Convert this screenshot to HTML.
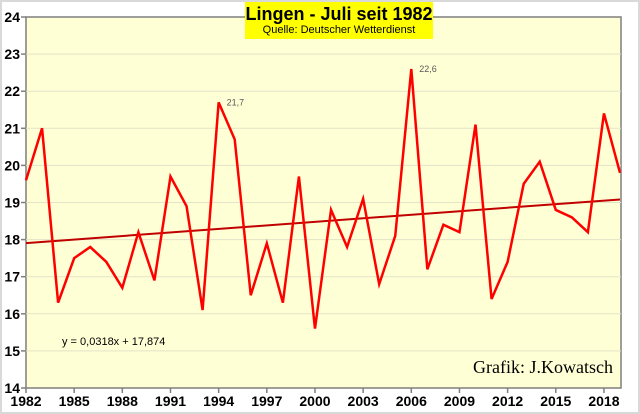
<!DOCTYPE html>
<html><head><meta charset="utf-8"><style>
body{margin:0;background:#fff}
#c{position:relative;width:640px;height:414px;box-sizing:border-box;border:2px solid #d9d9d9;background:#fff;font-family:"Liberation Sans",sans-serif;overflow:hidden}
#title{position:absolute;left:243px;top:0;width:188px;height:37px;background:#ffff00;text-align:center;white-space:nowrap}
</style></head><body>
<div id="c">
<svg id="s" width="640" height="414" style="position:absolute;left:-2px;top:-2px"></svg>
<div id="title">
<div style="font-weight:bold;font-size:18px;line-height:20px;margin-top:2px">Lingen - Juli seit 1982</div>
<div style="font-size:11px;line-height:13px">Quelle: Deutscher Wetterdienst</div>
</div>
</div>
<script>
const years=[1982,1983,1984,1985,1986,1987,1988,1989,1990,1991,1992,1993,1994,1995,1996,1997,1998,1999,2000,2001,2002,2003,2004,2005,2006,2007,2008,2009,2010,2011,2012,2013,2014,2015,2016,2017,2018,2019];
const temps=[19.6,21.0,16.3,17.5,17.8,17.4,16.7,18.2,16.9,19.7,18.9,16.1,21.7,20.7,16.5,17.9,16.3,19.7,15.6,18.8,17.8,19.1,16.8,18.1,22.6,17.2,18.4,18.2,21.1,16.4,17.4,19.5,20.1,18.8,18.6,18.2,21.4,19.8];
const yTicks=[14,15,16,17,18,19,20,21,22,23,24];
const xTickYears=[1982,1985,1988,1991,1994,1997,2000,2003,2006,2009,2012,2015,2018];
const trendSlope=0.0318, trendIntercept=17.874;
const labelled=[1994,2006];
const NS='http://www.w3.org/2000/svg';
const svg=document.getElementById('s');
const L=26,R=621,T=17,B=388;
const x=yr=>L+(yr-1982)*(R-1-L)/(2019-1982);
const y=v=>B-(v-14)*(B-T)/10;
function mk(t,a){const e=document.createElementNS(NS,t);for(const k in a)e.setAttribute(k,a[k]);svg.appendChild(e);return e;}
let e=mk('rect',{x:L,y:T,width:R-L,height:B-T,fill:'#ffffd6',stroke:'#7f7f7f','stroke-width':1.5});


yTicks.forEach(v=>{
 if(v>14&&v<24){e=mk('line',{x1:L,x2:R,y1:y(v),y2:y(v),stroke:'#e3e3c8','stroke-width':1});
 
 }
 mk('line',{x1:L-5,x2:L,y1:y(v),y2:y(v),stroke:'#7f7f7f','stroke-width':1.5});
 e=mk('text',{x:L-6,y:y(v)+5,'text-anchor':'end','font-size':14,'font-weight':'bold',fill:'#000'});
 e.textContent=v;
 
 
});
xTickYears.forEach(yr=>{
 mk('line',{x1:x(yr),x2:x(yr),y1:B,y2:B+5,stroke:'#7f7f7f','stroke-width':1.5});
 e=mk('text',{x:x(yr),y:B+18,'text-anchor':'middle','font-size':14,'font-weight':'bold',fill:'#000'});
 e.textContent=yr;
 
 
});
e=mk('line',{x1:x(1982),x2:x(2019),y1:y(trendSlope*1+trendIntercept),y2:y(trendSlope*years.length+trendIntercept),stroke:'#c00000','stroke-width':2});


e=mk('polyline',{points:years.map((yr,i)=>x(yr)+','+y(temps[i])).join(' '),fill:'none',stroke:'#ff0000','stroke-width':2.5,'stroke-linejoin':'miter'});


labelled.forEach(yr=>{const i=years.indexOf(yr);
 e=mk('text',{x:x(yr)+8,y:y(temps[i])+3,'font-size':9,fill:'#595959'});
 e.textContent=String(temps[i]).replace('.',',');
 
 
});
e=mk('text',{x:62,y:345,'font-size':11,fill:'#000'});
e.textContent='y = 0,0318x + 17,874';


e=mk('text',{x:613,y:373,'text-anchor':'end','font-size':18,'font-family':'Liberation Serif,serif',fill:'#000'});
e.textContent='Grafik:  J.Kowatsch';


</script>
</body></html>
